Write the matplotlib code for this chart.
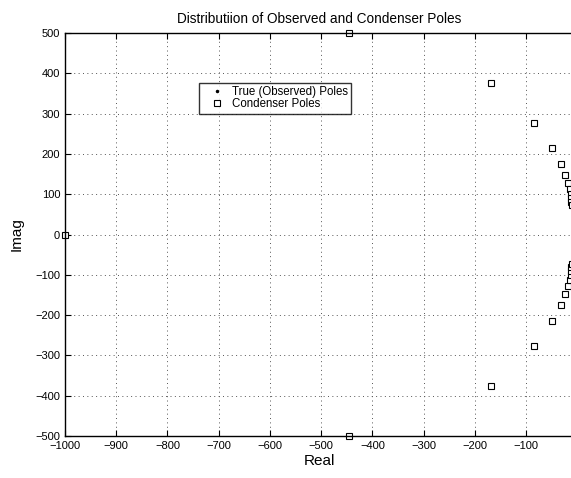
import matplotlib.pyplot as plt
import numpy as np

plt.rcParams['font.family'] = ['Liberation Sans', 'DejaVu Sans']

# condenser poles
cond_real = [-1000, -445, -168, -84, -49, -32, -23, -18, -15, -13, -12, -11.5, -11,
             -445, -168, -84, -49, -32, -23, -18, -15, -13, -12, -11.5, -11]
cond_imag = [0, 500, 375, 277, 215, 175, 148, 127, 112, 100, 90, 80, 72,
             -500, -375, -277, -215, -175, -148, -127, -112, -100, -90, -80, -72]

# true (observed) poles, mostly at the right edge
true_real = [-11, -10.8, -10.6, -10.5, -10.4, -11, -10.8, -10.6, -10.5, -10.4]
true_imag = [95, 88, 82, 76, 70, -95, -88, -82, -76, -70]

xticks = np.arange(-1000, 0, 100)
yticks = np.arange(-500, 501, 100)

fig = plt.figure(figsize=(5.71, 4.78), dpi=100)
ax = fig.add_axes([0.1138, 0.0879, 0.89, 0.843])

ax.plot(true_real, true_imag, 'k.', markersize=3, label='True (Observed) Poles', clip_on=False)
ax.plot(cond_real, cond_imag, 'ks', markersize=4.5, markerfacecolor='white',
        markeredgewidth=0.8, label='Condenser Poles', clip_on=False)

ax.set_xlim(-1000, -8)
ax.set_ylim(-500, 500)
ax.set_xticks(xticks)
ax.set_yticks(yticks)
ax.set_xticklabels([str(t).replace('-', '\u2212') for t in xticks])
ax.set_yticklabels([str(t).replace('-', '\u2212') for t in yticks])
ax.tick_params(direction='in', top=True, right=False, labelsize=8, length=4, width=0.8)
ax.grid(True, linestyle=(0, (1, 3.5)), color='#555555', linewidth=0.7)
ax.spines['right'].set_visible(False)
for s in ['left', 'bottom', 'top']:
    ax.spines[s].set_linewidth(1.0)

ax.set_title('Distributiion of Observed and Condenser Poles', fontsize=9.8, pad=7)
ax.set_xlabel('Real', fontsize=11, labelpad=2)
ax.set_ylabel('Imag', fontsize=11, labelpad=8)

leg = ax.legend(loc='upper left', bbox_to_anchor=(0.3485, 0.827), bbox_transform=fig.transFigure,
                fontsize=8.3, frameon=True, fancybox=False, edgecolor='black',
                handlelength=2.5, handletextpad=0.05, borderpad=0.3, labelspacing=0.0,
                borderaxespad=0)
leg.get_frame().set_linewidth(1.0)

fig.savefig('out.png', dpi=100)
